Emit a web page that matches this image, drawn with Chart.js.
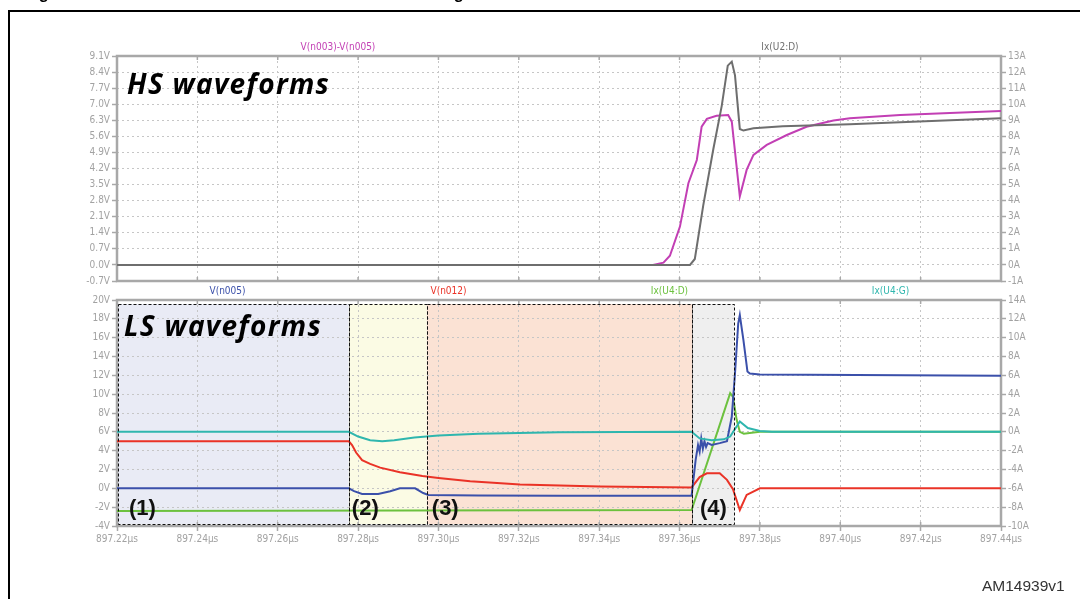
<!DOCTYPE html>
<html>
<head>
<meta charset="utf-8">
<script src="https://cdn.jsdelivr.net/npm/chart.js@4.4.1/dist/chart.umd.min.js"></script>
<style>
  html, body { margin: 0; padding: 0; background: #fff; }
  #page { position: relative; width: 1080px; height: 599px; overflow: hidden; background: #fff; }
  #frame { position: absolute; left: 8px; top: 10px; width: 1100px; height: 700px; border: 2px solid #000; box-sizing: border-box; }
  canvas { position: absolute; left: 0; top: 0; }
</style>
</head>
<body>
<div id="page">
  <div id="frame"></div>
  <canvas id="hs" width="1080" height="599"></canvas>
  <canvas id="ls" width="1080" height="599"></canvas>
</div>
<script>
// ---- time axis (µs) ----
const xTicks = [897.22, 897.24, 897.26, 897.28, 897.30, 897.32, 897.34, 897.36, 897.38, 897.40, 897.42, 897.44];
const xTickLabels = ['897.22µs', '897.24µs', '897.26µs', '897.28µs', '897.30µs', '897.32µs',
                     '897.34µs', '897.36µs', '897.38µs', '897.40µs', '897.42µs', '897.44µs'];

// ---- high-side pane axes ----
const hsLeftTicks = [-0.7, 0, 0.7, 1.4, 2.1, 2.8, 3.5, 4.2, 4.9, 5.6, 6.3, 7.0, 7.7, 8.4, 9.1];
const hsLeftLabels = ['-0.7V', '0.0V', '0.7V', '1.4V', '2.1V', '2.8V', '3.5V', '4.2V', '4.9V', '5.6V',
                      '6.3V', '7.0V', '7.7V', '8.4V', '9.1V'];
const hsRightTicks = [-1, 0, 1, 2, 3, 4, 5, 6, 7, 8, 9, 10, 11, 12, 13];
const hsRightLabels = ['-1A', '0A', '1A', '2A', '3A', '4A', '5A', '6A', '7A', '8A', '9A', '10A', '11A', '12A', '13A'];

// ---- low-side pane axes ----
const lsLeftTicks = [-4, -2, 0, 2, 4, 6, 8, 10, 12, 14, 16, 18, 20];
const lsLeftLabels = ['-4V', '-2V', '0V', '2V', '4V', '6V', '8V', '10V', '12V', '14V', '16V', '18V', '20V'];
const lsRightTicks = [-10, -8, -6, -4, -2, 0, 2, 4, 6, 8, 10, 12, 14];
const lsRightLabels = ['-10A', '-8A', '-6A', '-4A', '-2A', '0A', '2A', '4A', '6A', '8A', '10A', '12A', '14A'];

// ---- HS traces ----
const hsVgsT = [897.22, 897.3534, 897.3560, 897.3576, 897.3601, 897.3622, 897.3643, 897.3655, 897.3668,
                897.3692, 897.3721, 897.3730, 897.3750, 897.3767, 897.3784, 897.3817, 897.3867, 897.3916,
                897.3983, 897.4024, 897.4149, 897.4273, 897.44];
const hsVgsV = [0, 0, 0.1, 0.4, 1.67, 3.56, 4.57, 6.02, 6.36,
                6.50, 6.53, 6.24, 2.98, 4.14, 4.79, 5.23, 5.66, 6.02,
                6.29, 6.39, 6.53, 6.62, 6.70];

const hsIdT = [897.22, 897.3626, 897.3638, 897.3659, 897.3684, 897.3705, 897.3720, 897.3730, 897.3738,
               897.3750, 897.3759, 897.3784, 897.3857, 897.4024, 897.44];
const hsIdV = [0, 0, 0.37, 3.7, 7.2, 9.9, 12.4, 12.65, 11.8,
               8.46, 8.36, 8.5, 8.63, 8.75, 9.12];

// ---- LS traces ----
const lsVdsT = [897.22, 897.2777, 897.2790, 897.2810, 897.2850, 897.2880, 897.2904, 897.2942, 897.2962,
                897.2975, 897.3100, 897.3300, 897.3630, 897.3640, 897.3646, 897.3650, 897.3654, 897.3658,
                897.3662, 897.3666, 897.3670, 897.3680, 897.3700, 897.3718, 897.3730, 897.3738, 897.3746,
                897.3750, 897.3759, 897.3769, 897.3775, 897.3800, 897.44];
const lsVdsV = [0, 0, -0.3, -0.6, -0.6, -0.3, 0, 0, -0.5,
                -0.7, -0.75, -0.8, -0.8, 3.0, 4.6, 3.9, 5.3, 4.2,
                5.0, 4.4, 4.8, 4.6, 4.8, 5.0, 7.6, 12.2, 17.5,
                18.4, 15.75, 12.4, 12.2, 12.1, 11.95];

const lsVgT = [897.22, 897.2777, 897.2785, 897.2795, 897.2810, 897.2830, 897.2855, 897.2904, 897.2960,
               897.3000, 897.3079, 897.3203, 897.3402, 897.3630, 897.3650, 897.3668, 897.3700, 897.3718,
               897.3733, 897.3750, 897.3767, 897.3800, 897.44];
const lsVgV = [5.0, 5.0, 4.6, 3.8, 3.0, 2.6, 2.2, 1.7, 1.3,
               1.1, 0.75, 0.4, 0.2, 0.1, 1.2, 1.6, 1.6, 0.9,
               -0.1, -2.3, -0.7, 0, 0];

const lsIdT = [897.22, 897.3630, 897.3726, 897.3733, 897.3742, 897.3750, 897.3760, 897.3800, 897.44];
const lsIdV = [-8.4, -8.3, 4.1, 3.7, 1.3, 0, -0.2, 0, 0];

const lsIgT = [897.22, 897.2777, 897.2800, 897.2830, 897.2860, 897.2890, 897.2940, 897.3000, 897.3100,
               897.3300, 897.3630, 897.3650, 897.3680, 897.3710, 897.3726, 897.3750, 897.3770, 897.3800,
               897.3830, 897.44];
const lsIgV = [0, 0, -0.5, -0.9, -1.0, -0.9, -0.6, -0.4, -0.2,
               -0.05, 0, -0.7, -0.9, -0.8, -0.5, 1.1, 0.4, 0.1,
               0, 0];

// ---- switching phases on the LS pane ----
const phaseEdges = [897.22, 897.2777, 897.2971, 897.3631, 897.3736];
const phaseLabels = ['(1)', '(2)', '(3)', '(4)'];

// ---------------------------------------------------------------
const pts = (t, v) => t.map((x, i) => ({ x, y: v[i] }));
const axisFont = { family: '"DejaVu Sans Condensed", "DejaVu Sans", sans-serif', size: 10 };
const axisColor = '#a2a2a2';
const gridColor = '#c6c6c6';
const frameColor = '#a8a8a8';

const fixedTicks = values => scale => { scale.ticks = values.map(v => ({ value: v })); };

function yAxis(pos, min, max, values, labels, onArea) {
  return {
    type: 'linear', position: pos, min, max,
    afterBuildTicks: fixedTicks(values),
    afterFit: s => { s.width = 60; },
    ticks: { callback: (v, i) => labels[i], color: axisColor, font: axisFont, padding: 2, autoSkip: false },
    grid: { drawOnChartArea: onArea, color: gridColor, lineWidth: 1, drawTicks: true, tickLength: 5,
            tickColor: frameColor, tickWidth: 1.5 },
    border: { display: false, dash: [2, 3] }
  };
}

function xAxis(showLabels) {
  return {
    type: 'linear', position: 'bottom', min: 897.22, max: 897.44,
    afterBuildTicks: fixedTicks(xTicks),
    afterFit: s => { s.height = showLabels ? 26 : 0; },
    ticks: { display: showLabels, callback: (v, i) => xTickLabels[i], color: axisColor, font: axisFont,
             padding: 2, autoSkip: false, maxRotation: 0 },
    grid: { color: gridColor, lineWidth: 1, drawTicks: showLabels, tickLength: 5, tickColor: frameColor, tickWidth: 1.5 },
    border: { display: false, dash: [2, 3] }
  };
}

function trace(label, t, v, color, axis, order) {
  return { label, data: pts(t, v), borderColor: color, backgroundColor: color, borderWidth: 2,
           pointRadius: 0, tension: 0, fill: false, yAxisID: axis, order };
}

// gray plot frame with the small inner ticks at each time division
const framePlugin = {
  id: 'paneFrame',
  beforeDatasetsDraw(chart) {
    const { ctx, chartArea: a, scales } = chart;
    ctx.save();
    ctx.strokeStyle = frameColor;
    ctx.lineWidth = 1.5;
    xTicks.forEach(v => {
      const px = scales.x.getPixelForValue(v);
      ctx.beginPath();
      ctx.moveTo(px, a.top); ctx.lineTo(px, a.top + 4);
      ctx.moveTo(px, a.bottom); ctx.lineTo(px, a.bottom - 4);
      ctx.stroke();
    });
    ctx.lineWidth = 2.5;
    ctx.strokeRect(a.left, a.top, a.right - a.left, a.bottom - a.top);
    ctx.restore();
  },
  afterDraw(chart, args, opts) {
    const { ctx, chartArea: a } = chart;
    ctx.save();
    // trace names above the pane
    const sets = chart.data.datasets;
    const n = sets.length;
    ctx.font = '10px "DejaVu Sans Condensed", "DejaVu Sans", sans-serif';
    ctx.textAlign = 'center';
    ctx.textBaseline = 'middle';
    opts.legendOrder.forEach((idx, k) => {
      const ds = sets[idx];
      ctx.fillStyle = ds.borderColor;
      ctx.fillText(ds.label, a.left + (2 * k + 1) * (a.right - a.left) / (2 * n), a.top - 9);
    });
    // pane caption
    ctx.fillStyle = '#000';
    ctx.textAlign = 'left';
    ctx.textBaseline = 'alphabetic';
    ctx.font = 'italic bold 28px "Open Sans", "Lato", sans-serif';
    ctx.letterSpacing = '1.3px';
    ctx.fillText(opts.caption, a.left + opts.captionDx, a.top + opts.captionDy);
    ctx.restore();
  }
};

// shaded switching phases
const phasePlugin = {
  id: 'phases',
  beforeDraw(chart) {
    const { ctx, chartArea: a, scales } = chart;
    const fills = ['#e9ebf5', '#fbfbe4', '#fbe2d4', '#efefef'];
    ctx.save();
    for (let i = 0; i < phaseLabels.length; i++) {
      const x0 = i === 0 ? a.left + 1 : scales.x.getPixelForValue(phaseEdges[i]);
      const x1 = scales.x.getPixelForValue(phaseEdges[i + 1]);
      const y0 = a.top + 4, y1 = a.bottom - 2;
      ctx.fillStyle = fills[i];
      ctx.fillRect(x0, y0, x1 - x0, y1 - y0);
    }
    ctx.restore();
  },
  afterDatasetsDraw(chart) {
    const { ctx, chartArea: a, scales } = chart;
    ctx.save();
    ctx.strokeStyle = '#111';
    ctx.lineWidth = 1;
    ctx.setLineDash([3, 2]);
    for (let i = 0; i < phaseLabels.length; i++) {
      const x0 = i === 0 ? a.left + 1 : scales.x.getPixelForValue(phaseEdges[i]);
      const x1 = scales.x.getPixelForValue(phaseEdges[i + 1]);
      const y0 = a.top + 4, y1 = a.bottom - 2;
      ctx.strokeRect(Math.round(x0) + 0.5, Math.round(y0) + 0.5, Math.round(x1 - x0), Math.round(y1 - y0));
    }
    ctx.setLineDash([]);
    const dx = [12, 3, 5, 8];
    ctx.fillStyle = '#111';
    ctx.font = 'bold 22px "Liberation Sans", Arial, sans-serif';
    ctx.textBaseline = 'alphabetic';
    ctx.textAlign = 'left';
    for (let i = 0; i < phaseLabels.length; i++) {
      const x0 = i === 0 ? a.left : scales.x.getPixelForValue(phaseEdges[i]);
      ctx.fillText(phaseLabels[i], x0 + dx[i], a.bottom - 11);
    }
    ctx.restore();
  },
  afterDraw(chart) {
    const ctx = chart.ctx;
    ctx.save();
    ctx.fillStyle = '#000';
    ctx.font = 'bold 16.5px "Liberation Sans", Arial, sans-serif';
    ctx.textBaseline = 'alphabetic';
    ctx.fillText('Figure 9. Turn-on transient waveforms in hard switching', 24, -1);
    ctx.fillStyle = '#333';
    ctx.font = '15.5px "Liberation Sans", Arial, sans-serif';
    ctx.fillText('AM14939v1', 982, 591);
    ctx.restore();
  }
};

const common = {
  responsive: false,
  animation: false,
  events: [],
  plugins: { legend: { display: false }, tooltip: { enabled: false } }
};

new Chart(document.getElementById('hs'), {
  type: 'line',
  data: {
    datasets: [
      trace('V(n003)-V(n005)', hsVgsT, hsVgsV, '#c23fb4', 'yL', 2),
      trace('Ix(U2:D)', hsIdT, hsIdV, '#6e6e6e', 'yR', 1)
    ]
  },
  options: Object.assign({}, common, {
    layout: { padding: { left: 57, right: 19, top: 56, bottom: 318 } },
    scales: {
      x: xAxis(false),
      yL: yAxis('left', -0.7, 9.1, hsLeftTicks, hsLeftLabels, true),
      yR: yAxis('right', -1, 13, hsRightTicks, hsRightLabels, false)
    },
    plugins: Object.assign({}, common.plugins, {
      paneFrame: { legendOrder: [0, 1], caption: 'HS waveforms', captionDx: 10, captionDy: 38 }
    })
  }),
  plugins: [framePlugin]
});

new Chart(document.getElementById('ls'), {
  type: 'line',
  data: {
    datasets: [
      trace('V(n005)', lsVdsT, lsVdsV, '#3b50aa', 'yL', 2),
      trace('V(n012)', lsVgT, lsVgV, '#ea3327', 'yL', 3),
      trace('Ix(U4:D)', lsIdT, lsIdV, '#6cc13e', 'yR', 4),
      trace('Ix(U4:G)', lsIgT, lsIgV, '#2fb6ae', 'yR', 1)
    ]
  },
  options: Object.assign({}, common, {
    layout: { padding: { left: 57, right: 19, top: 300, bottom: 47 } },
    scales: {
      x: xAxis(true),
      yL: yAxis('left', -4, 20, lsLeftTicks, lsLeftLabels, true),
      yR: yAxis('right', -10, 14, lsRightTicks, lsRightLabels, false)
    },
    plugins: Object.assign({}, common.plugins, {
      paneFrame: { legendOrder: [0, 1, 2, 3], caption: 'LS waveforms', captionDx: 7, captionDy: 36 }
    })
  }),
  plugins: [phasePlugin, framePlugin]
});
</script>
</body>
</html>
